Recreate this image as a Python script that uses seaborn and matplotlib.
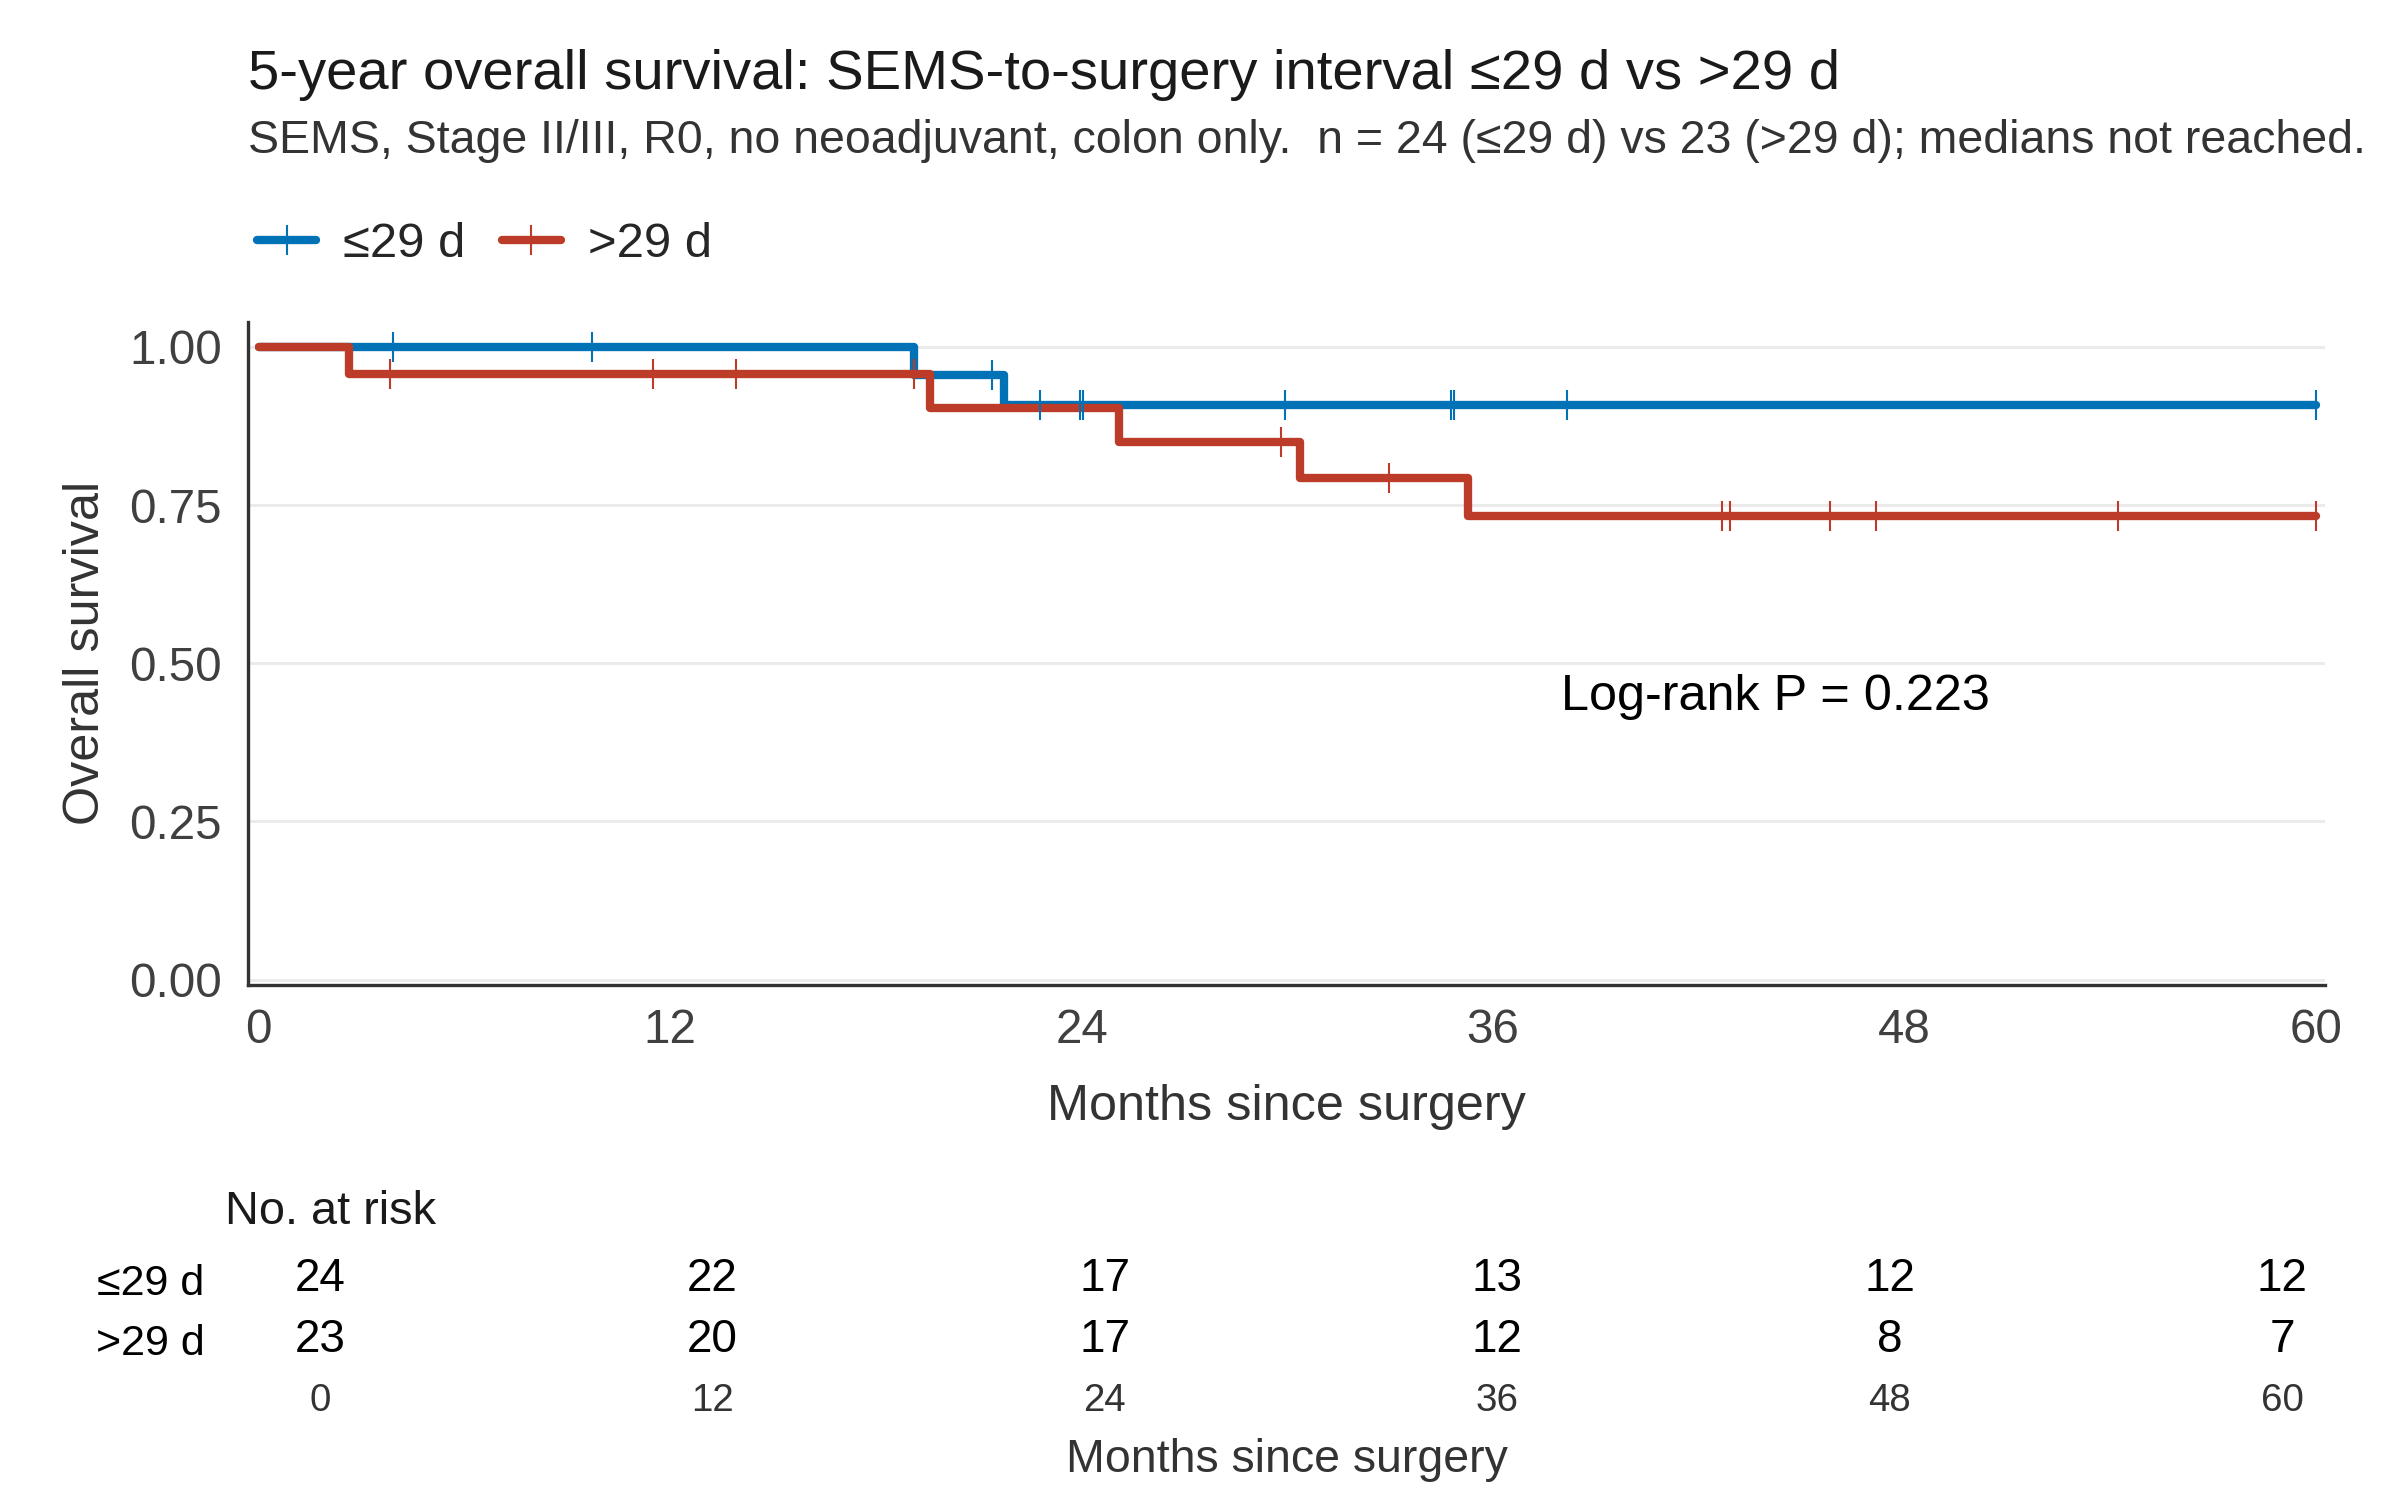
import pandas as pd
import matplotlib.pyplot as plt
import seaborn as sns

# step curves (months, survival)
le_times = [0, 19.12, 21.74, 60]
le_surv = [1.0, 0.955, 0.908, 0.908]
gt_times = [0, 2.62, 19.59, 25.08, 30.36, 35.26, 60]
gt_surv = [1.0, 0.957, 0.903, 0.850, 0.793, 0.733, 0.733]

# censor marks
le_cens_t = [3.91, 9.71, 21.40, 22.78, 23.95, 24.04, 29.94, 34.77, 34.87, 38.16, 60]
le_cens_s = [1.0, 1.0, 0.955, 0.908, 0.908, 0.908, 0.908, 0.908, 0.908, 0.908, 0.908]
gt_cens_t = [3.83, 11.51, 13.91, 19.12, 29.83, 32.97, 42.68, 42.92, 45.84, 47.19, 54.24, 60]
gt_cens_s = [0.957, 0.957, 0.957, 0.957, 0.850, 0.793, 0.733, 0.733, 0.733, 0.733, 0.733, 0.733]

groups = ["≤29 d", ">29 d"]
colors = {"≤29 d": "#0072B5", ">29 d": "#BC3C29"}

risk_times = [0, 12, 24, 36, 48, 60]
risk_le = [24, 22, 17, 13, 12, 12]
risk_gt = [23, 20, 17, 12, 8, 7]

sns.set_theme(style="white")
plt.rcParams["font.family"] = ["Liberation Sans", "DejaVu Sans"]

curves = pd.concat([
    pd.DataFrame({"time": le_times, "surv": le_surv, "group": groups[0]}),
    pd.DataFrame({"time": gt_times, "surv": gt_surv, "group": groups[1]}),
])
cens = pd.concat([
    pd.DataFrame({"time": le_cens_t, "surv": le_cens_s, "group": groups[0]}),
    pd.DataFrame({"time": gt_cens_t, "surv": gt_cens_s, "group": groups[1]}),
])

fig = plt.figure(figsize=(16, 10), dpi=150)
ax = fig.add_axes([0.1034, 0.3435, 0.8653, 0.4421])

for y in [0, 0.25, 0.5, 0.75, 1.0]:
    ax.axhline(y, color="#EBEBEB", lw=1.4, zorder=0)

sns.lineplot(data=curves, x="time", y="surv", hue="group", palette=colors,
             drawstyle="steps-post", estimator=None, sort=False,
             linewidth=4.0, legend=False, ax=ax)
sns.scatterplot(data=cens, x="time", y="surv", hue="group", palette=colors,
                marker="|", s=210, linewidth=1.0, legend=False, ax=ax, zorder=5)

ax.set_xlim(-0.31, 60.27)
ax.set_ylim(-0.008, 1.04)
ax.set_xticks([0, 12, 24, 36, 48, 60])
ax.set_yticks([0, 0.25, 0.5, 0.75, 1.0])
ax.set_yticklabels(["0.00", "0.25", "0.50", "0.75", "1.00"])
ax.tick_params(axis="both", labelsize=22.8, labelcolor="#404040", color="black",
               length=5.5, width=1.2)
ax.tick_params(axis="y", pad=7)
ax.tick_params(axis="x", pad=5.5)
ax.set_xlabel("Months since surgery", fontsize=24.2, color="#333333", labelpad=15)
ax.set_ylabel("Overall survival", fontsize=24.2, color="#333333", labelpad=10)
for side in ["top", "right"]:
    ax.spines[side].set_visible(False)
for side in ["left", "bottom"]:
    ax.spines[side].set_color("#333333")
    ax.spines[side].set_linewidth(1.6)

ax.text(38.0, 0.447, "Log-rank P = 0.223", fontsize=24.2, color="black",
        ha="left", va="center")

fig.text(0.1034, 0.950, "5-year overall survival: SEMS-to-surgery interval ≤29 d vs >29 d",
         fontsize=27, ha="left", va="center", color="#1A1A1A")
fig.text(0.1034, 0.906,
         "SEMS, Stage II/III, R0, no neoadjuvant, colon only.  n = 24 (≤29 d) vs 23 (>29 d); medians not reached.",
         fontsize=22.3, ha="left", va="center", color="#333333")

handles = [plt.Line2D([], [], color=colors[g], lw=4.0, marker="|", markersize=14.5,
                      markeredgewidth=1.0) for g in groups]
fig.legend(handles, groups, loc="center left", bbox_to_anchor=(0.1072, 0.837),
           ncol=2, frameon=False, fontsize=23.5, borderpad=0, borderaxespad=0,
           handlelength=1.2, handletextpad=0.55, columnspacing=0.75)

# risk table
rax = fig.add_axes([0.1034, 0.0862, 0.8653, 0.0817])
for t, a, b in zip(risk_times, risk_le, risk_gt):
    rax.text(t, 1, str(a), ha="center", va="center", fontsize=22, color="black")
    rax.text(t, 0, str(b), ha="center", va="center", fontsize=22, color="black")
rax.set_xlim(-2.20, 61.31)
rax.set_ylim(-0.513, 1.51)
rax.set_xticks(risk_times)
rax.set_yticks([1, 0])
rax.set_yticklabels(groups)
rax.tick_params(axis="y", length=0, pad=21, labelsize=20.7, labelcolor="black")
rax.tick_params(axis="x", length=0, pad=6, labelsize=18.5, labelcolor="#333333")
rax.set_xlabel("Months since surgery", fontsize=22.3, color="#333333", labelpad=9)
for s in rax.spines.values():
    s.set_visible(False)
fig.text(0.0938, 0.1920, "No. at risk", fontsize=22.5, ha="left", va="center", color="#1A1A1A")

fig.savefig("out.png", dpi=150)
